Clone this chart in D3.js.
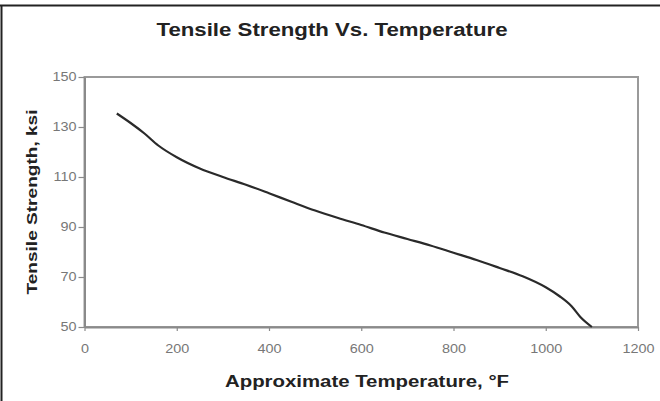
<!DOCTYPE html>
<html>
<head>
<meta charset="utf-8">
<script src="https://cdn.jsdelivr.net/npm/d3@7"></script>
<style>
  html, body { margin: 0; padding: 0; background: #fff; }
  svg { display: block; }
</style>
</head>
<body>
<svg id="chart" width="660" height="401"></svg>
<script>
const titleText = "Tensile Strength Vs. Temperature";
const xAxisTitle = "Approximate Temperature, \u00B0F";
const yAxisTitle = "Tensile Strength, ksi";
const xTicks = [0, 200, 400, 600, 800, 1000, 1200];
const yTicks = [50, 70, 90, 110, 130, 150];
const temperature = [70, 100, 130, 160, 200, 250, 300, 350, 400, 450, 500, 550, 600, 650, 700, 750, 800, 850, 900, 950, 1000, 1030, 1056, 1075, 1100];
const strength = [135.4, 131.6, 127.4, 122.6, 117.9, 113.4, 110.0, 106.9, 103.5, 100.0, 96.6, 93.6, 90.8, 87.8, 85.2, 82.6, 79.7, 76.8, 73.6, 70.3, 65.9, 62.3, 58.3, 54.0, 50.0];

(function () {
const svg = d3.select("#chart");
const pLeft = 84.5, pRight = 638, pTop = 77, pBottom = 327;
const x = d3.scaleLinear().domain([0, 1200]).range([pLeft, pRight]);
const y = d3.scaleLinear().domain([50, 150]).range([pBottom, pTop]);
const stretch = 1.2;

function widen(sel, factor) {
  sel.each(function () {
    const w = this.getComputedTextLength();
    d3.select(this).attr("textLength", w * factor).attr("lengthAdjust", "spacingAndGlyphs");
  });
}

// outer frame (top and left only)
svg.append("line").attr("x1", 0).attr("x2", 660).attr("y1", 5.5).attr("y2", 5.5)
  .attr("stroke", "#222").attr("stroke-width", 2);
svg.append("line").attr("x1", 1.5).attr("x2", 1.5).attr("y1", 5).attr("y2", 401)
  .attr("stroke", "#222").attr("stroke-width", 2);

// plot area border
svg.append("rect").attr("x", pLeft).attr("y", pTop).attr("width", pRight - pLeft).attr("height", pBottom - pTop)
  .attr("fill", "none").attr("stroke", "#9a9a9a").attr("stroke-width", 2);

const font = "Liberation Sans, Arial, sans-serif";

// axes
const xAxis = d3.axisBottom(x).tickValues(xTicks).tickFormat(d3.format("d"))
  .tickSize(4).tickSizeOuter(0).tickPadding(13);
const gx = svg.append("g").attr("transform", `translate(0,${pBottom})`).call(xAxis);
const yAxis = d3.axisLeft(y).tickValues(yTicks).tickFormat(d3.format("d"))
  .tickSize(6).tickSizeOuter(0).tickPadding(2);
const gy = svg.append("g").attr("transform", `translate(${pLeft},0)`).call(yAxis);
[gx, gy].forEach(g => {
  g.select(".domain").attr("stroke", "#8a8a8a").attr("stroke-width", 2);
  g.selectAll(".tick line").attr("stroke", "#8a8a8a").attr("stroke-width", 1.2);
  g.selectAll(".tick text").attr("fill", "#777").style("font-family", font).style("font-size", "12px");
  widen(g.selectAll(".tick text"), stretch);
});

// line
const line = d3.line().x((d, i) => x(temperature[i])).y(d => y(d)).curve(d3.curveMonotoneX);
svg.append("path").datum(strength).attr("d", line)
  .attr("fill", "none").attr("stroke", "#2a2a2a").attr("stroke-width", 2.2);

// titles
svg.append("text").attr("x", 332).attr("y", 36).attr("text-anchor", "middle")
  .style("font-family", font).style("font-weight", "bold").style("font-size", "17.5px")
  .attr("fill", "#222").attr("textLength", 351).attr("lengthAdjust", "spacingAndGlyphs")
  .text(titleText);
svg.append("text").attr("x", 367).attr("y", 387).attr("text-anchor", "middle")
  .style("font-family", font).style("font-weight", "bold").style("font-size", "16px")
  .attr("fill", "#222").attr("textLength", 284).attr("lengthAdjust", "spacingAndGlyphs")
  .text(xAxisTitle);
svg.append("text").attr("transform", `translate(37,${(pTop + pBottom) / 2}) rotate(-90)`)
  .attr("text-anchor", "middle")
  .style("font-family", font).style("font-weight", "bold").style("font-size", "15.5px")
  .attr("fill", "#222").attr("textLength", 185).attr("lengthAdjust", "spacingAndGlyphs")
  .text(yAxisTitle);
})();
</script>
</body>
</html>
